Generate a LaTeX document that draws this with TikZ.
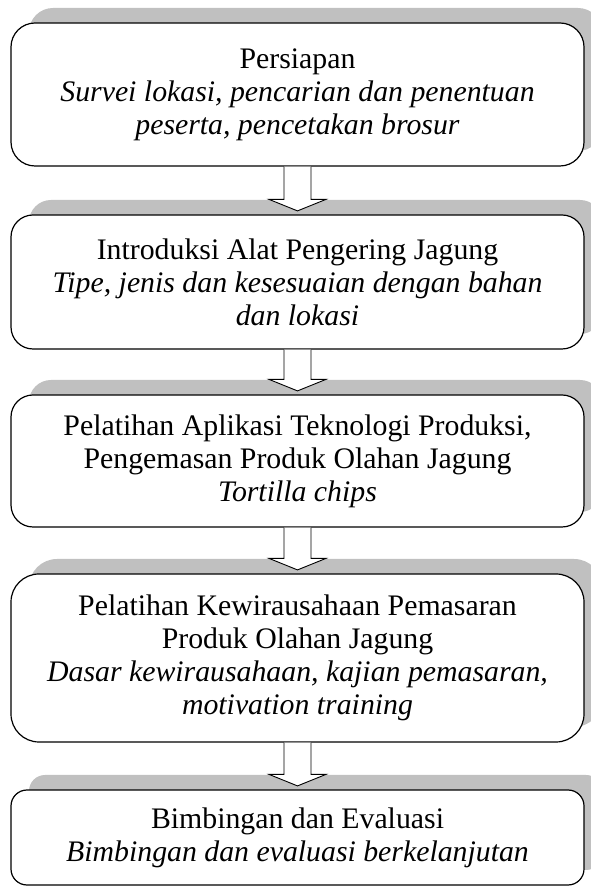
\documentclass[tikz,border=0pt]{standalone}
\usepackage{fontspec}
\setmainfont{Liberation Serif}
\usetikzlibrary{shadows, calc}
\definecolor{shadegray}{RGB}{192,192,192}

\begin{document}
\begin{tikzpicture}[x=1pt, y=1pt,
		stage/.style={draw, line width=1.2pt, rounded corners=22pt, fill=white,
			minimum width=573pt, inner sep=0pt, align=center,
			font=\fontsize{29.8}{33}\selectfont,
			general shadow={fill=shadegray, shadow xshift=18pt, shadow yshift=15pt}},
		downarrow/.style={draw, line width=0.9pt, fill=white, to path={
			let \p1=(\tikztostart), \p2=(\tikztotarget) in
			(\x1-13.5pt,\y1) -- (\x1-13.5pt,\y2+15pt) -- (\x1-28.5pt,\y2+15pt)
			-- (\x1,\y2+3.5pt) -- (\x1+28.5pt,\y2+15pt) -- (\x1+13.5pt,\y2+15pt)
			-- (\x1+13.5pt,\y1)}}]
		\useasboundingbox (0, 0) rectangle (590, 888);
		
		% Stages
		\node[stage, minimum height=143pt, rounded corners=24pt] (persiapan) at (297.5, 793.5)
		{Persiapan\\ \textit{Survei lokasi, pencarian dan penentuan}\\ \textit{peserta, pencetakan brosur}};
		\node[stage, minimum height=134pt] (introduksi) at (297.5, 606)
		{Introduksi Alat Pengering Jagung\\ \textit{Tipe, jenis dan kesesuaian dengan bahan}\\ \textit{dan lokasi}};
		\node[stage, minimum height=132pt] (aplikasi) at (297.5, 427)
		{Pelatihan Aplikasi Teknologi Produksi,\\ Pengemasan Produk Olahan Jagung\\ \textit{Tortilla chips}};
		\node[stage, minimum height=168pt, rounded corners=28pt] (wirausaha) at (297.5, 230)
		{Pelatihan Kewirausahaan Pemasaran\\ Produk Olahan Jagung\\ \textit{Dasar kewirausahaan, kajian pemasaran,}\\ \textit{motivation training}};
		\node[stage, minimum height=95pt, rounded corners=16pt] (evaluasi) at (297.5, 50.5)
		{Bimbingan dan Evaluasi\\ \textit{Bimbingan dan evaluasi berkelanjutan}};
		
		% Block arrows between stages
		\draw[downarrow] (persiapan.south) to (introduksi.north);
		\draw[downarrow] (introduksi.south) to (aplikasi.north);
		\draw[downarrow] (aplikasi.south) to (wirausaha.north);
		\draw[downarrow] (wirausaha.south) to (evaluasi.north);
	\end{tikzpicture}
\end{document}
